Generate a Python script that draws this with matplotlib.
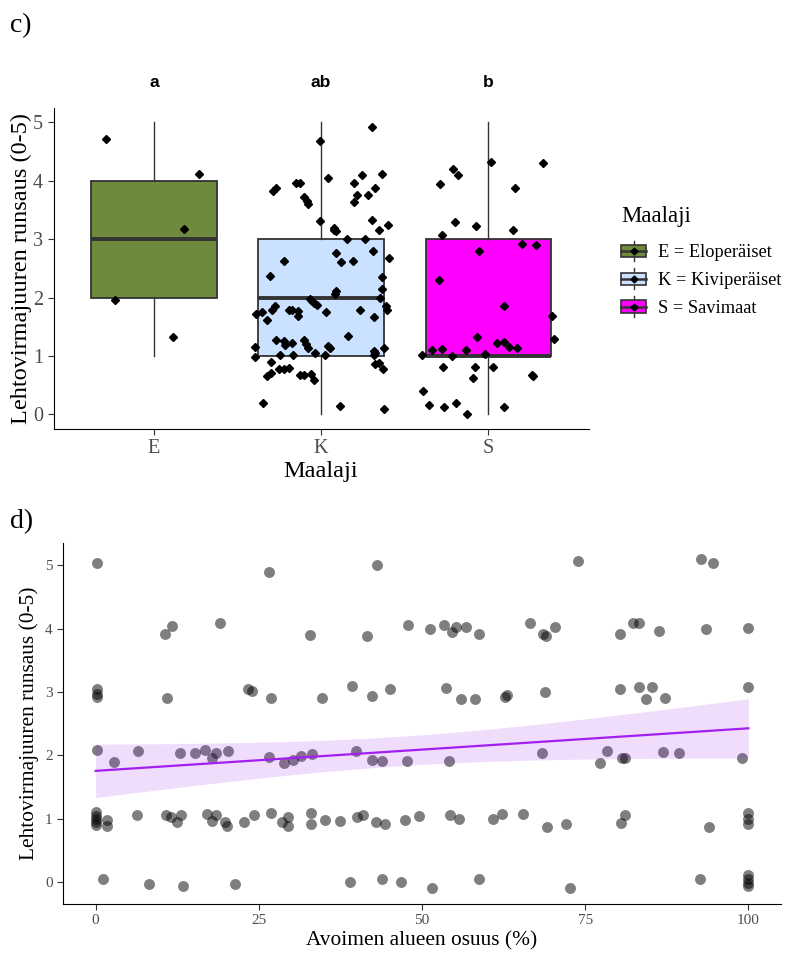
import matplotlib.pyplot as plt
import numpy as np
from matplotlib.legend_handler import HandlerBase
from matplotlib.patches import Rectangle, Patch
from matplotlib.lines import Line2D

plt.rcParams['font.family'] = ['Liberation Serif', 'DejaVu Serif']

# ---- panel c: soil type boxplots ----
soil_codes = ['E', 'K', 'S']
soil_names = ['E = Eloperäiset', 'K = Kiviperäiset', 'S = Savimaat']
soil_colors = ['#6E8B3D', '#CAE1FF', '#FF00FF']
sig_letters = ['a', 'ab', 'b']

# box statistics (whisker low, Q1, median, Q3, whisker high)
box_lo = [1, 0, 0]
box_q1 = [2, 1, 1]
box_med = [3, 2, 1]
box_q3 = [4, 3, 3]
box_hi = [5, 5, 5]

# jittered observations (x position on category axis, abundance)
e_x = [0.712, 1.272, 1.177, 0.768, 1.117]
e_y = [4.71, 4.12, 3.17, 1.96, 1.32]

k_x = [2.305, 1.992, 2.040, 2.246, 2.365, 2.199, 2.325, 2.281, 2.216, 2.195,
       1.710, 1.731, 1.852, 1.872, 1.900, 1.916, 1.920, 1.996, 2.305, 2.401,
       2.347, 2.080, 2.090, 2.075, 2.157, 2.265, 2.309, 2.092, 1.776, 2.120,
       2.192, 2.405, 1.696, 2.363, 2.363, 2.092, 2.086, 2.355, 1.932, 1.946,
       1.960, 1.976, 1.613, 1.647, 1.677, 1.707, 1.726, 1.806, 1.826, 1.860,
       1.860, 2.028, 2.235, 2.391, 2.395, 2.317, 2.159, 1.732, 1.776, 1.786,
       1.826, 1.896, 1.910, 1.920, 2.040, 2.056, 1.605, 1.605, 1.756, 1.832,
       1.962, 2.022, 2.317, 2.325, 2.375, 2.315, 1.702, 1.746, 1.776, 1.810,
       1.677, 1.702, 1.876, 1.900, 1.940, 1.956, 2.321, 2.349, 2.369, 1.653,
       2.111, 2.375]
k_y = [4.93, 4.69, 4.04, 4.10, 4.12, 3.96, 3.87, 3.75, 3.75, 3.64,
       3.82, 3.87, 3.96, 3.97, 3.72, 3.65, 3.61, 3.31, 3.33, 3.25,
       3.15, 3.19, 3.14, 3.16, 3.00, 3.00, 2.80, 2.77, 2.63, 2.61,
       2.63, 2.67, 2.37, 2.36, 2.14, 2.12, 2.07, 1.99, 1.97, 1.95,
       1.90, 1.87, 1.72, 1.75, 1.62, 1.79, 1.86, 1.79, 1.79, 1.77,
       1.69, 1.75, 1.79, 1.86, 1.79, 1.66, 1.34, 1.27, 1.25, 1.19,
       1.22, 1.27, 1.21, 1.14, 1.17, 1.13, 1.16, 0.99, 1.01, 1.02,
       1.05, 1.02, 1.09, 1.05, 1.14, 1.01, 0.90, 0.78, 0.78, 0.79,
       0.65, 0.71, 0.67, 0.68, 0.70, 0.59, 0.86, 0.88, 0.78, 0.19,
       0.15, 0.10]

s_x = [3.016, 3.326, 2.787, 2.819, 2.711, 3.160, 2.802, 2.926, 3.150, 2.723,
       3.200, 3.286, 2.946, 2.703, 3.096, 3.383, 3.395, 2.932, 3.050, 3.094,
       3.126, 3.174, 2.663, 2.721, 2.866, 2.603, 2.784, 2.980, 2.729, 2.919,
       3.026, 2.910, 3.263, 3.269, 2.607, 2.647, 2.738, 2.808, 2.871, 3.096]
s_y = [4.32, 4.31, 4.21, 4.10, 3.94, 3.88, 3.29, 3.23, 3.16, 3.08,
       2.91, 2.90, 2.80, 2.30, 1.85, 1.68, 1.29, 1.33, 1.22, 1.24,
       1.15, 1.13, 1.10, 1.12, 1.11, 1.02, 1.00, 1.03, 0.82, 0.82,
       0.82, 0.62, 0.67, 0.66, 0.40, 0.16, 0.12, 0.20, 0.01, 0.13]

# ---- panel d: open area share vs abundance (jittered) ----
open_pct = [0.15, 26.6, 43.1, 73.9, 92.8, 94.6,
            10.7, 11.7, 19.1, 32.8, 41.6, 47.8, 51.3, 53.3, 54.6, 55.2, 56.8, 58.7,
            66.6, 68.5, 69.0, 70.4, 80.4, 82.4, 83.3, 86.3, 93.5, 100.0,
            0.15, 0.15, 0.15, 11.0, 23.4, 23.9, 26.8, 34.7, 39.3, 42.4, 45.1, 53.7,
            56.0, 58.1, 62.7, 63.0, 68.9, 80.4, 83.2, 85.2, 84.3, 87.2, 100.0,
            0.15, 2.8, 6.5, 12.9, 15.2, 16.8, 17.8, 18.5, 20.3, 26.6, 28.8, 30.3,
            31.5, 33.2, 39.9, 42.3, 43.9, 47.7, 54.2, 68.4, 77.2, 78.4, 80.6, 81.1,
            87.0, 89.4, 99.0,
            0.0, 0.0, 0.0, 0.0, 0.0, 1.8, 1.8, 6.3, 10.8, 11.5, 12.5, 13.1, 17.0,
            17.8, 18.4, 19.8, 20.1, 22.7, 24.2, 26.9, 28.5, 29.5, 29.4, 33.0, 33.0,
            35.2, 37.4, 40.0, 40.9, 43.0, 44.4, 47.4, 49.6, 54.3, 55.6, 60.9, 62.2,
            65.5, 69.1, 72.1, 80.5, 81.1, 94.0, 100.0, 100.0, 100.0,
            1.2, 8.2, 13.4, 21.3, 39.0, 43.9, 46.8, 51.5, 58.7, 72.7, 92.6,
            100.0, 100.0, 100.0, 100.0]
abund = [5.04, 4.89, 5.00, 5.07, 5.09, 5.04,
         3.91, 4.04, 4.08, 3.90, 3.88, 4.05, 3.99, 4.05, 3.95, 4.03, 4.02, 3.91,
         4.08, 3.91, 3.88, 4.03, 3.92, 4.08, 4.08, 3.96, 3.99, 4.01,
         3.04, 2.97, 2.92, 2.91, 3.04, 3.02, 2.91, 2.90, 3.09, 2.94, 3.04, 3.06,
         2.89, 2.89, 2.92, 2.95, 3.00, 3.05, 3.08, 3.08, 2.89, 2.91, 3.08,
         2.08, 1.89, 2.07, 2.04, 2.03, 2.08, 1.95, 2.04, 2.07, 1.97, 1.87, 1.93,
         1.99, 2.02, 2.06, 1.92, 1.91, 1.91, 1.91, 2.04, 1.87, 2.07, 1.95, 1.96,
         2.05, 2.04, 1.96,
         1.10, 1.04, 0.99, 0.95, 0.90, 0.97, 0.88, 1.05, 1.06, 1.03, 0.95, 1.05, 1.07,
         0.96, 1.05, 0.95, 0.88, 0.95, 1.06, 1.08, 0.95, 1.03, 0.88, 1.08, 0.92,
         0.97, 0.96, 1.03, 1.06, 0.95, 0.92, 0.97, 1.04, 1.06, 1.00, 1.00, 1.07,
         1.07, 0.87, 0.91, 0.93, 1.06, 0.87, 1.09, 1.00, 0.91,
         0.04, -0.04, -0.06, -0.04, 0.00, 0.04, -0.01, -0.10, 0.05, -0.09, 0.04,
         0.11, 0.04, -0.02, -0.07]


class BoxKey(HandlerBase):
    def create_artists(self, legend, orig, xd, yd, w, h, fontsize, trans):
        x0, y0 = -xd, -yd
        whisk = Line2D([x0 + w / 2] * 2, [y0, y0 + h], color='#333333', lw=1, transform=trans)
        box = Rectangle((x0, y0 + 0.2 * h), w, 0.6 * h, facecolor=orig.get_facecolor(),
                        edgecolor='#333333', lw=1.2, transform=trans)
        med = Line2D([x0, x0 + w], [y0 + h / 2] * 2, color='#333333', lw=1.8, transform=trans)
        pt = Line2D([x0 + w / 2], [y0 + h / 2], marker='D', ms=3.5, color='black',
                    linestyle='none', transform=trans)
        return [whisk, box, med, pt]


fig = plt.figure(figsize=(7.92, 9.55), dpi=100)

# ---------- panel c ----------
ax1 = fig.add_axes([0.0677, 0.5508, 0.6754, 0.3363])
stats = []
for i in range(3):
    stats.append(dict(whislo=box_lo[i], q1=box_q1[i], med=box_med[i], q3=box_q3[i],
                      whishi=box_hi[i], label=soil_codes[i]))
bp = ax1.bxp(stats, positions=[1, 2, 3], widths=0.75, patch_artist=True,
             showcaps=False, showfliers=False,
             boxprops=dict(edgecolor='#333333', linewidth=1.3),
             medianprops=dict(color='#333333', linewidth=2.8),
             whiskerprops=dict(color='#333333', linewidth=1.0))
for patch, c in zip(bp['boxes'], soil_colors):
    patch.set_facecolor(c)

for xs, ys in [(e_x, e_y), (k_x, k_y), (s_x, s_y)]:
    ax1.plot(xs, ys, 'D', color='black', ms=3.6, zorder=3)

for i, lab in enumerate(sig_letters):
    ax1.text(i + 1, 5.69, lab, ha='center', va='center', fontsize=12.5,
             fontweight='bold', family='Liberation Sans', clip_on=False)

ax1.set_xlim(0.4, 3.6)
ax1.set_ylim(-0.25, 5.25)
ax1.set_xticks([1, 2, 3])
ax1.set_xticklabels(soil_codes)
ax1.set_yticks(range(6))
ax1.tick_params(labelsize=14.5, labelcolor='#4D4D4D', color='#333333', length=4)
ax1.spines[['top', 'right']].set_visible(False)
ax1.set_xlabel('Maalaji', fontsize=17.5, labelpad=2)
ax1.set_ylabel('Lehtovirmajuuren runsaus (0-5)', fontsize=17.5, labelpad=1)

handles = [Patch(facecolor=c) for c in soil_colors]
leg = fig.legend(handles, soil_names, handler_map={Patch: BoxKey()}, loc='upper left',
                 bbox_to_anchor=(0.7726, 0.7942), frameon=False, fontsize=13.2,
                 title='Maalaji', title_fontsize=16.5, alignment='left',
                 handlelength=1.37, handleheight=1.37, labelspacing=0.38,
                 handletextpad=0.65, borderpad=0)
leg._legend_box.sep = 10

fig.text(0.012, 0.973, 'c)', fontsize=20, va='center')
fig.text(0.012, 0.454, 'd)', fontsize=20, va='center')

# ---------- panel d ----------
ax2 = fig.add_axes([0.0795, 0.0534, 0.9066, 0.378])
xo = np.array(open_pct)
ya = np.array(abund)
ax2.scatter(xo, ya, s=62, color='black', alpha=0.5, linewidths=0, zorder=2)

# linear fit with 95% confidence band on the unjittered abundance
yr = np.round(ya)
n = len(xo)
b1, b0 = np.polyfit(xo, yr, 1)
resid = yr - (b0 + b1 * xo)
s = np.sqrt(np.sum(resid ** 2) / (n - 2))
sxx = np.sum((xo - xo.mean()) ** 2)
xg = np.linspace(0, 100, 80)
fit = b0 + b1 * xg
se = s * np.sqrt(1 / n + (xg - xo.mean()) ** 2 / sxx)
ax2.fill_between(xg, fit - 1.977 * se, fit + 1.977 * se, color='#A020F0', alpha=0.15,
                 linewidth=0, zorder=3)
ax2.plot(xg, fit, color='#A020F0', lw=1.6, zorder=4)

ax2.set_xlim(-5, 105)
ax2.set_ylim(-0.35, 5.35)
ax2.set_xticks([0, 25, 50, 75, 100])
ax2.set_yticks(range(6))
ax2.tick_params(labelsize=11, labelcolor='#4D4D4D', color='#333333', length=4)
ax2.spines[['top', 'right']].set_visible(False)
ax2.set_xlabel('Avoimen alueen osuus (%)', fontsize=15.4, labelpad=3)
ax2.set_ylabel('Lehtovirmajuuren runsaus (0-5)', fontsize=15.4, labelpad=4)

fig.savefig('out.png', dpi=100)
